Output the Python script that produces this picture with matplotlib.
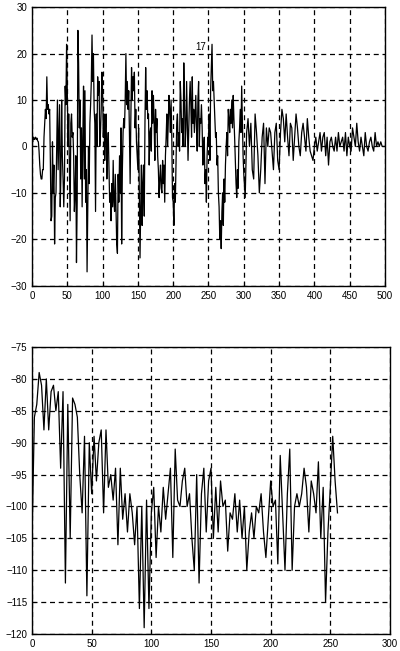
import numpy as np
import matplotlib.pyplot as plt

plt.rcParams['font.family'] = ['Liberation Sans', 'DejaVu Sans']

# top trace: samples 0..299 one by one
top_head = [
    1.5, 1.0, 2.0, 1.5, 1.8,     2.0, 1.5, 1.8, 1.2, 1.0,
    -1, -4, -6, -7, -7,          -5, -5, 2, 5, 8,
    6, 15, 8, 9, 7,              8, -3, -16, -15, 1,
    -10, -4, -21, -11, -10,      0, 10, -5, 2, 9,
    -13, -6, 10, -2, -7,         -13, -7, 13, 9, 22,
    12, 0, 7, -5, -16,           5, 7, 2, 3, -2,
    -14, -10, -2, -25, -12,      25, 18, 4, 10, -7,
    4, -13, 2, 13, -7,           12, -12, -5, -27, -14,
    0, -8, 5, 9, 14,             24, 14, 20, 8, 5,
    -14, 7, 0, 15, 11,           14, 0, 3, 8, 16,
    12, 2, 7, -3, 4,             7, -7, 0, 3, -5,
    -12, -10, -16, -8, -13,      -3, -12, -14, -6, -13,
    -21, -23, -6, -12, -2,       -10, 4, -21, -5, 3,
    6, 4, 10, 20, 9,             14, 8, 12, 3, -8,
    6, 17, 10, 15, 12,           16, 4, 8, 1, -2,
    -5, 4, -10, -24, -13,        -4, -17, -8, -4, -15,
    5, 17, 8, 12, 6,             7, -4, 3, 4, -1,
    12, 5, 11, 5, -3,            8, 3, 6, -2, -5,
    -11, -7, -4, -9, -10,        -3, -8, -4, -12, -2,
    2, 7, 0, 5, 11,              8, 3, 10, 2, -11,
    -12, -17, -8, -12, -3,       5, 7, 0, 3, -1,
    14, 10, 3, 6, 0,             18, 10, 0, 4, 14,
    5, -3, 4, 10, 14,            9, 2, 15, 5, 8,
    3, 7, 11, 4, -1,             10, 14, 0, 6, 5,
    9, 4, -4, 0, 2,              -8, -5, -12, -2, 2,
    0, 7, -3, 12, 17,            22, 12, 14, 10, 6,
    2, 3, -4, -2, -10,           -13, -20, -16, -22, -14,
    -10, -17, -7, -12, -4,       0, 3, -2, 8, 6,
    3, 8, 5, 10, 4,              11, 6, 2, -3, -8,
    -11, -5, -9, 1, 4,           8, 3, 13, 6, -2,
]
# top trace: samples 300..500, one value every 2 samples
top_tail = [
    -6, -11, 3, 6, 0,          5, -5, -7, 7, 3,
    -2, -10, -5, 2, 5,         -8, 4, 0, 4, 3,
    -1, -5, 3, 5, -3,          -5, 3, 8, 6, 1,
    7, 2, -2, 5, 4,            -3, 2, 7, 4, 0,
    -2, 3, 5, 2, -1,           6, 2, -1, -2, -3,
    0, 2, -1, 1, 3,            -1, 2, 3, -2, 2,
    -4, 1, 2, 0, -1,           2, -1, 3, 0, 1,
    2, -1, 3, -2, 2,           0, -1, 4, 2, 0,
    5, 1, -1, 2, 0,            -2, 3, 0, -1, 1,
    2, 0, -1, 3, 0,            1, 0, 1, 0, 0,
    0,
]
top_label = '17'
top_label_pos = (232, 21.5)

# bottom trace, one value every 2 samples (0..256)
bot_y = [
    -105, -86, -84, -79, -81, -88, -80, -88, -82, -81,
    -85, -82, -94, -82, -112, -84, -105, -83, -84, -86,
    -95, -101, -89, -114, -90, -98, -89, -96, -90, -88,
    -101, -88, -97, -95, -99, -94, -106, -94, -102, -98,
    -104, -98, -101, -106, -100, -116, -100, -119, -99, -116,
    -101, -97, -108, -100, -104, -97, -102, -98, -94, -108,
    -91, -99, -100, -96, -94, -100, -98, -105, -110, -95,
    -112, -98, -94, -104, -96, -94, -105, -97, -104, -96,
    -100, -99, -107, -101, -102, -98, -104, -99, -105, -100,
    -110, -104, -101, -105, -100, -101, -98, -104, -108, -102,
    -96, -100, -99, -109, -92, -101, -110, -98, -91, -110,
    -100, -98, -100, -98, -94, -97, -104, -96, -98, -101,
    -93, -105, -97, -115, -104, -97, -89, -96, -101,
]
bot_step = 2

top_yticks = [-30, -20, -10, 0, 10, 20, 30]
top_xticks = [0, 50, 100, 150, 200, 250, 300, 350, 400, 450, 500]
bot_yticks = [-120, -115, -110, -105, -100, -95, -90, -85, -80, -75]
bot_xticks = [0, 50, 100, 150, 200, 250, 300]

fig = plt.figure(figsize=(4.0, 6.51), dpi=100)
ax1 = fig.add_axes([0.08, 0.561, 0.8825, 0.428])
ax2 = fig.add_axes([0.08, 0.026, 0.895, 0.441])

def style(ax, xt, yt):
    ax.set_xticks(xt)
    ax.set_yticks(yt)
    ax.set_xlim(xt[0], xt[-1])
    ax.set_ylim(yt[0], yt[-1])
    ax.grid(True, color='black', linestyle=(0, (4, 3)), linewidth=0.9)
    ax.tick_params(direction='in', length=3, labelsize=7, colors='black')
    for s in ax.spines.values():
        s.set_linewidth(1.0)
        s.set_color('black')

x1 = np.concatenate([np.arange(len(top_head)),
                     len(top_head) + np.arange(len(top_tail)) * 2])
ax1.plot(x1, top_head + top_tail, color='black', linewidth=0.9)
ax1.text(*top_label_pos, top_label, fontsize=7, ha='left', va='center')
style(ax1, top_xticks, top_yticks)

x2 = np.arange(len(bot_y)) * bot_step
ax2.plot(x2, bot_y, color='black', linewidth=0.9)
style(ax2, bot_xticks, bot_yticks)

fig.savefig('out.png', dpi=100)
